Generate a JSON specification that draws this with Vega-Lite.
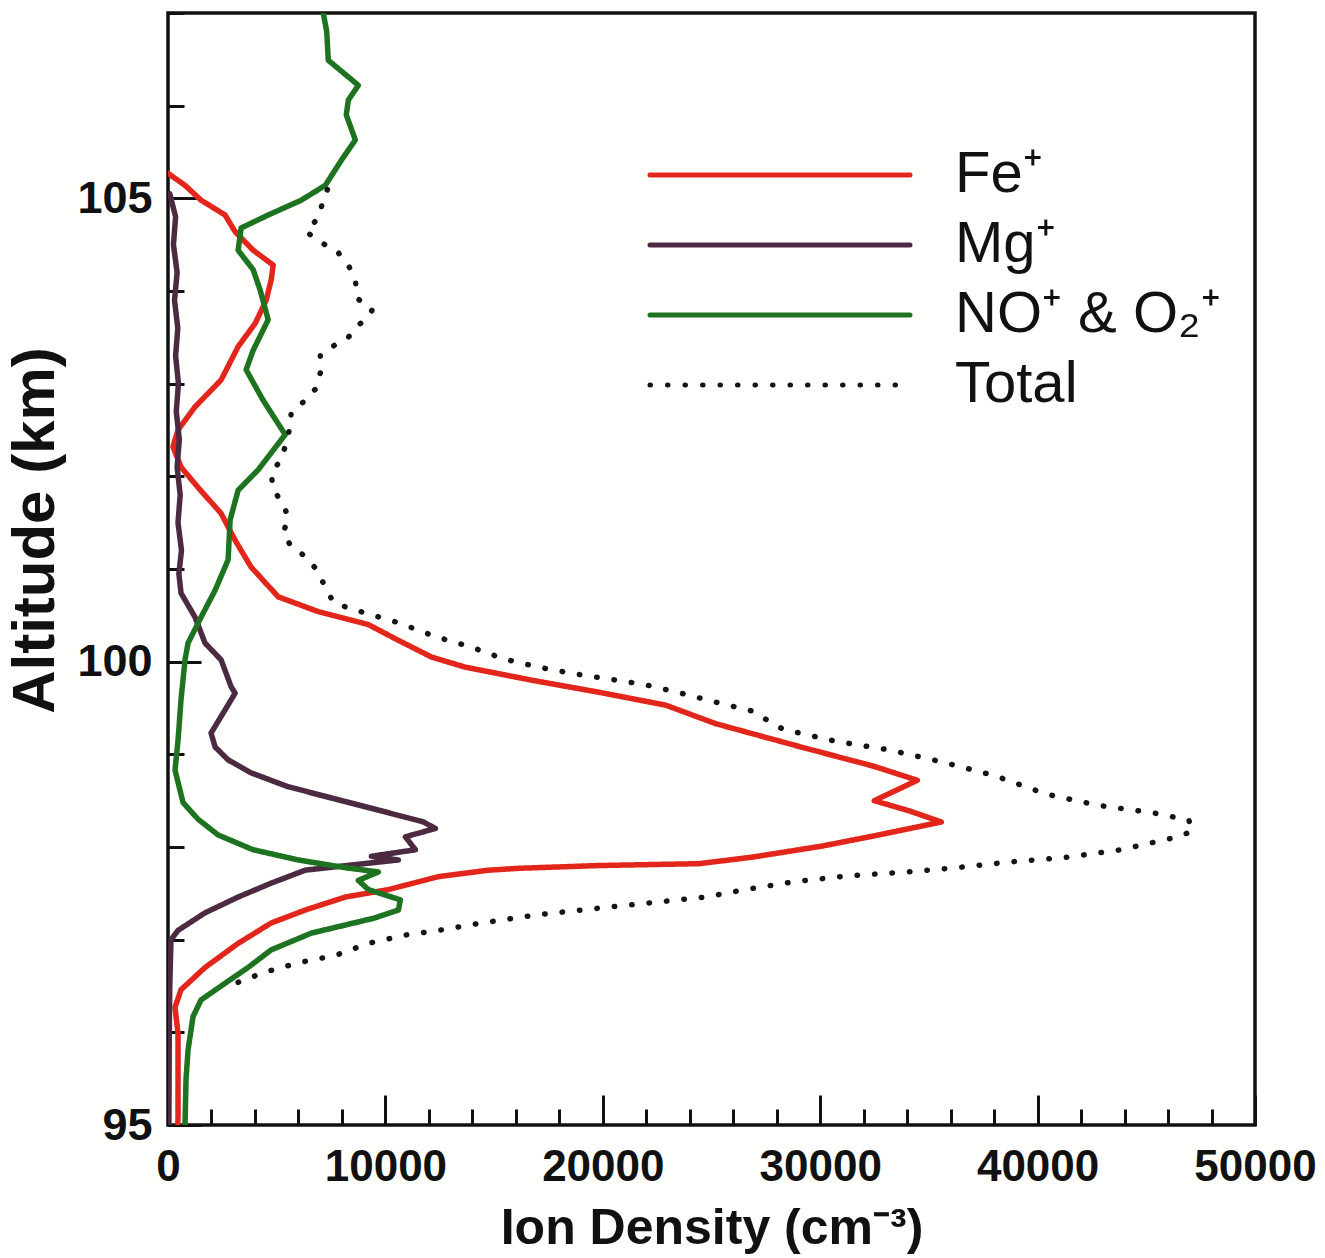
{
  "$schema": "https://vega.github.io/schema/vega-lite/v6.json",
  "width": 1087,
  "height": 1112,
  "autosize": {"type": "none"},
  "padding": {"left": 168, "top": 13, "right": 70, "bottom": 133},
  "background": "#fffffd",
  "config": {
    "view": {"stroke": "#111111", "strokeWidth": 3.5},
    "font": "Liberation Sans",
    "axis": {
      "domain": false,
      "grid": false,
      "tickColor": "#111111",
      "tickWidth": 3,
      "labelFont": "Liberation Sans",
      "labelFontWeight": "bold",
      "labelColor": "#111111",
      "labelFlush": false,
      "labelOverlap": false,
      "titleFont": "Liberation Sans",
      "titleFontWeight": "bold",
      "titleColor": "#111111"
    }
  },
  "data": {
    "values": [
      {"s": "Fe⁺", "alt": 105.27, "n": 0},
      {"s": "Fe⁺", "alt": 105.14, "n": 783},
      {"s": "Fe⁺", "alt": 104.98, "n": 1521},
      {"s": "Fe⁺", "alt": 104.82, "n": 2627},
      {"s": "Fe⁺", "alt": 104.64, "n": 3087},
      {"s": "Fe⁺", "alt": 104.44, "n": 3917},
      {"s": "Fe⁺", "alt": 104.28, "n": 4838},
      {"s": "Fe⁺", "alt": 104.12, "n": 4746},
      {"s": "Fe⁺", "alt": 103.9, "n": 4516},
      {"s": "Fe⁺", "alt": 103.65, "n": 4009},
      {"s": "Fe⁺", "alt": 103.4, "n": 3226},
      {"s": "Fe⁺", "alt": 103.04, "n": 2442},
      {"s": "Fe⁺", "alt": 102.75, "n": 1244},
      {"s": "Fe⁺", "alt": 102.5, "n": 461},
      {"s": "Fe⁺", "alt": 102.32, "n": 230},
      {"s": "Fe⁺", "alt": 102.1, "n": 599},
      {"s": "Fe⁺", "alt": 101.88, "n": 1382},
      {"s": "Fe⁺", "alt": 101.6, "n": 2442},
      {"s": "Fe⁺", "alt": 101.31, "n": 3087},
      {"s": "Fe⁺", "alt": 101.02, "n": 3825},
      {"s": "Fe⁺", "alt": 100.7, "n": 5069},
      {"s": "Fe⁺", "alt": 100.54, "n": 6912},
      {"s": "Fe⁺", "alt": 100.4, "n": 9216},
      {"s": "Fe⁺", "alt": 100.23, "n": 10598},
      {"s": "Fe⁺", "alt": 100.05, "n": 12119},
      {"s": "Fe⁺", "alt": 99.94, "n": 13686},
      {"s": "Fe⁺", "alt": 99.8, "n": 16727},
      {"s": "Fe⁺", "alt": 99.67, "n": 19814},
      {"s": "Fe⁺", "alt": 99.53, "n": 22902},
      {"s": "Fe⁺", "alt": 99.33, "n": 25206},
      {"s": "Fe⁺", "alt": 99.07, "n": 29261},
      {"s": "Fe⁺", "alt": 98.87, "n": 32486},
      {"s": "Fe⁺", "alt": 98.72, "n": 34468},
      {"s": "Fe⁺", "alt": 98.5, "n": 32486},
      {"s": "Fe⁺", "alt": 98.39, "n": 34099},
      {"s": "Fe⁺", "alt": 98.27, "n": 35574},
      {"s": "Fe⁺", "alt": 98.12, "n": 32486},
      {"s": "Fe⁺", "alt": 98.01, "n": 30090},
      {"s": "Fe⁺", "alt": 97.89, "n": 26865},
      {"s": "Fe⁺", "alt": 97.82, "n": 24422},
      {"s": "Fe⁺", "alt": 97.8, "n": 19814},
      {"s": "Fe⁺", "alt": 97.77, "n": 16128},
      {"s": "Fe⁺", "alt": 97.75, "n": 14746},
      {"s": "Fe⁺", "alt": 97.68, "n": 12442},
      {"s": "Fe⁺", "alt": 97.54, "n": 10138},
      {"s": "Fe⁺", "alt": 97.46, "n": 8156},
      {"s": "Fe⁺", "alt": 97.32, "n": 6313},
      {"s": "Fe⁺", "alt": 97.18, "n": 4746},
      {"s": "Fe⁺", "alt": 96.96, "n": 3226},
      {"s": "Fe⁺", "alt": 96.7, "n": 1705},
      {"s": "Fe⁺", "alt": 96.46, "n": 599},
      {"s": "Fe⁺", "alt": 96.27, "n": 323},
      {"s": "Fe⁺", "alt": 95.99, "n": 461},
      {"s": "Fe⁺", "alt": 95.63, "n": 461},
      {"s": "Fe⁺", "alt": 95.09, "n": 461},
      {"s": "Fe⁺", "alt": 95.0, "n": 450},

      {"s": "Mg⁺", "alt": 105.05, "n": 80},
      {"s": "Mg⁺", "alt": 104.8, "n": 350},
      {"s": "Mg⁺", "alt": 104.5, "n": 250},
      {"s": "Mg⁺", "alt": 104.2, "n": 420},
      {"s": "Mg⁺", "alt": 103.9, "n": 300},
      {"s": "Mg⁺", "alt": 103.6, "n": 450},
      {"s": "Mg⁺", "alt": 103.3, "n": 350},
      {"s": "Mg⁺", "alt": 103.0, "n": 480},
      {"s": "Mg⁺", "alt": 102.7, "n": 380},
      {"s": "Mg⁺", "alt": 102.4, "n": 520},
      {"s": "Mg⁺", "alt": 102.1, "n": 420},
      {"s": "Mg⁺", "alt": 101.8, "n": 560},
      {"s": "Mg⁺", "alt": 101.5, "n": 460},
      {"s": "Mg⁺", "alt": 101.2, "n": 620},
      {"s": "Mg⁺", "alt": 100.95, "n": 500},
      {"s": "Mg⁺", "alt": 100.74, "n": 599},
      {"s": "Mg⁺", "alt": 100.48, "n": 1244},
      {"s": "Mg⁺", "alt": 100.2, "n": 1705},
      {"s": "Mg⁺", "alt": 100.02, "n": 2442},
      {"s": "Mg⁺", "alt": 99.73, "n": 2903},
      {"s": "Mg⁺", "alt": 99.66, "n": 3087},
      {"s": "Mg⁺", "alt": 99.48, "n": 2627},
      {"s": "Mg⁺", "alt": 99.23, "n": 1981},
      {"s": "Mg⁺", "alt": 99.08, "n": 2166},
      {"s": "Mg⁺", "alt": 98.94, "n": 2765},
      {"s": "Mg⁺", "alt": 98.8, "n": 3825},
      {"s": "Mg⁺", "alt": 98.65, "n": 5530},
      {"s": "Mg⁺", "alt": 98.51, "n": 7834},
      {"s": "Mg⁺", "alt": 98.37, "n": 10138},
      {"s": "Mg⁺", "alt": 98.27, "n": 11750},
      {"s": "Mg⁺", "alt": 98.2, "n": 12303},
      {"s": "Mg⁺", "alt": 98.11, "n": 10921},
      {"s": "Mg⁺", "alt": 97.97, "n": 11382},
      {"s": "Mg⁺", "alt": 97.9, "n": 9354},
      {"s": "Mg⁺", "alt": 97.86, "n": 10598},
      {"s": "Mg⁺", "alt": 97.81, "n": 8617},
      {"s": "Mg⁺", "alt": 97.75, "n": 6313},
      {"s": "Mg⁺", "alt": 97.61, "n": 4746},
      {"s": "Mg⁺", "alt": 97.46, "n": 3226},
      {"s": "Mg⁺", "alt": 97.29, "n": 1705},
      {"s": "Mg⁺", "alt": 97.1, "n": 461},
      {"s": "Mg⁺", "alt": 97.0, "n": 138},
      {"s": "Mg⁺", "alt": 96.5, "n": 80},
      {"s": "Mg⁺", "alt": 96.0, "n": 60},
      {"s": "Mg⁺", "alt": 95.5, "n": 50},
      {"s": "Mg⁺", "alt": 95.0, "n": 40},

      {"s": "NO⁺ & O₂⁺", "alt": 107.0, "n": 7142},
      {"s": "NO⁺ & O₂⁺", "alt": 106.8, "n": 7300},
      {"s": "NO⁺ & O₂⁺", "alt": 106.49, "n": 7373},
      {"s": "NO⁺ & O₂⁺", "alt": 106.22, "n": 8755},
      {"s": "NO⁺ & O₂⁺", "alt": 106.06, "n": 8294},
      {"s": "NO⁺ & O₂⁺", "alt": 105.9, "n": 8202},
      {"s": "NO⁺ & O₂⁺", "alt": 105.63, "n": 8617},
      {"s": "NO⁺ & O₂⁺", "alt": 105.41, "n": 7972},
      {"s": "NO⁺ & O₂⁺", "alt": 105.14, "n": 7235},
      {"s": "NO⁺ & O₂⁺", "alt": 104.98, "n": 6129},
      {"s": "NO⁺ & O₂⁺", "alt": 104.82, "n": 4608},
      {"s": "NO⁺ & O₂⁺", "alt": 104.68, "n": 3364},
      {"s": "NO⁺ & O₂⁺", "alt": 104.44, "n": 3226},
      {"s": "NO⁺ & O₂⁺", "alt": 104.23, "n": 3917},
      {"s": "NO⁺ & O₂⁺", "alt": 104.01, "n": 4239},
      {"s": "NO⁺ & O₂⁺", "alt": 103.69, "n": 4608},
      {"s": "NO⁺ & O₂⁺", "alt": 103.36, "n": 3917},
      {"s": "NO⁺ & O₂⁺", "alt": 103.15, "n": 3594},
      {"s": "NO⁺ & O₂⁺", "alt": 102.82, "n": 4378},
      {"s": "NO⁺ & O₂⁺", "alt": 102.45, "n": 5391},
      {"s": "NO⁺ & O₂⁺", "alt": 102.07, "n": 4147},
      {"s": "NO⁺ & O₂⁺", "alt": 101.85, "n": 3226},
      {"s": "NO⁺ & O₂⁺", "alt": 101.53, "n": 2857},
      {"s": "NO⁺ & O₂⁺", "alt": 101.1, "n": 2765},
      {"s": "NO⁺ & O₂⁺", "alt": 100.77, "n": 2166},
      {"s": "NO⁺ & O₂⁺", "alt": 100.48, "n": 1521},
      {"s": "NO⁺ & O₂⁺", "alt": 100.2, "n": 922},
      {"s": "NO⁺ & O₂⁺", "alt": 100.02, "n": 783},
      {"s": "NO⁺ & O₂⁺", "alt": 99.59, "n": 599},
      {"s": "NO⁺ & O₂⁺", "alt": 99.15, "n": 461},
      {"s": "NO⁺ & O₂⁺", "alt": 98.83, "n": 323},
      {"s": "NO⁺ & O₂⁺", "alt": 98.48, "n": 691},
      {"s": "NO⁺ & O₂⁺", "alt": 98.3, "n": 1382},
      {"s": "NO⁺ & O₂⁺", "alt": 98.13, "n": 2304},
      {"s": "NO⁺ & O₂⁺", "alt": 97.97, "n": 3917},
      {"s": "NO⁺ & O₂⁺", "alt": 97.86, "n": 5990},
      {"s": "NO⁺ & O₂⁺", "alt": 97.78, "n": 8064},
      {"s": "NO⁺ & O₂⁺", "alt": 97.73, "n": 9677},
      {"s": "NO⁺ & O₂⁺", "alt": 97.64, "n": 8755},
      {"s": "NO⁺ & O₂⁺", "alt": 97.54, "n": 9216},
      {"s": "NO⁺ & O₂⁺", "alt": 97.43, "n": 10690},
      {"s": "NO⁺ & O₂⁺", "alt": 97.32, "n": 10598},
      {"s": "NO⁺ & O₂⁺", "alt": 97.23, "n": 9446},
      {"s": "NO⁺ & O₂⁺", "alt": 97.07, "n": 6589},
      {"s": "NO⁺ & O₂⁺", "alt": 96.89, "n": 4746},
      {"s": "NO⁺ & O₂⁺", "alt": 96.7, "n": 3686},
      {"s": "NO⁺ & O₂⁺", "alt": 96.53, "n": 2627},
      {"s": "NO⁺ & O₂⁺", "alt": 96.35, "n": 1521},
      {"s": "NO⁺ & O₂⁺", "alt": 96.17, "n": 1152},
      {"s": "NO⁺ & O₂⁺", "alt": 95.81, "n": 922},
      {"s": "NO⁺ & O₂⁺", "alt": 95.49, "n": 829},
      {"s": "NO⁺ & O₂⁺", "alt": 95.0, "n": 783},

      {"s": "Total", "alt": 105.12, "n": 7373},
      {"s": "Total", "alt": 104.98, "n": 7142},
      {"s": "Total", "alt": 104.79, "n": 6912},
      {"s": "Total", "alt": 104.64, "n": 6359},
      {"s": "Total", "alt": 104.52, "n": 7050},
      {"s": "Total", "alt": 104.44, "n": 7741},
      {"s": "Total", "alt": 104.28, "n": 8294},
      {"s": "Total", "alt": 104.12, "n": 8617},
      {"s": "Total", "alt": 103.92, "n": 8700},
      {"s": "Total", "alt": 103.8, "n": 9400},
      {"s": "Total", "alt": 103.72, "n": 9216},
      {"s": "Total", "alt": 103.63, "n": 8755},
      {"s": "Total", "alt": 103.5, "n": 8294},
      {"s": "Total", "alt": 103.42, "n": 7695},
      {"s": "Total", "alt": 103.31, "n": 7004},
      {"s": "Total", "alt": 103.15, "n": 7050},
      {"s": "Total", "alt": 102.94, "n": 6774},
      {"s": "Total", "alt": 102.82, "n": 6313},
      {"s": "Total", "alt": 102.69, "n": 5668},
      {"s": "Total", "alt": 102.54, "n": 5622},
      {"s": "Total", "alt": 102.36, "n": 5437},
      {"s": "Total", "alt": 102.18, "n": 5207},
      {"s": "Total", "alt": 102.04, "n": 4746},
      {"s": "Total", "alt": 101.85, "n": 4838},
      {"s": "Total", "alt": 101.71, "n": 5299},
      {"s": "Total", "alt": 101.55, "n": 5530},
      {"s": "Total", "alt": 101.39, "n": 5299},
      {"s": "Total", "alt": 101.24, "n": 5668},
      {"s": "Total", "alt": 101.13, "n": 6359},
      {"s": "Total", "alt": 101.01, "n": 6774},
      {"s": "Total", "alt": 100.81, "n": 7235},
      {"s": "Total", "alt": 100.64, "n": 7603},
      {"s": "Total", "alt": 100.58, "n": 8294},
      {"s": "Total", "alt": 100.42, "n": 10598},
      {"s": "Total", "alt": 100.27, "n": 12303},
      {"s": "Total", "alt": 100.16, "n": 13916},
      {"s": "Total", "alt": 100.03, "n": 15437},
      {"s": "Total", "alt": 99.94, "n": 17050},
      {"s": "Total", "alt": 99.87, "n": 18662},
      {"s": "Total", "alt": 99.81, "n": 20367},
      {"s": "Total", "alt": 99.75, "n": 21980},
      {"s": "Total", "alt": 99.66, "n": 23592},
      {"s": "Total", "alt": 99.56, "n": 25252},
      {"s": "Total", "alt": 99.47, "n": 26819},
      {"s": "Total", "alt": 99.27, "n": 28293},
      {"s": "Total", "alt": 99.14, "n": 30735},
      {"s": "Total", "alt": 99.05, "n": 33131},
      {"s": "Total", "alt": 98.92, "n": 35574},
      {"s": "Total", "alt": 98.77, "n": 38016},
      {"s": "Total", "alt": 98.57, "n": 40412},
      {"s": "Total", "alt": 98.45, "n": 42762},
      {"s": "Total", "alt": 98.37, "n": 45296},
      {"s": "Total", "alt": 98.29, "n": 46955},
      {"s": "Total", "alt": 98.17, "n": 47140},
      {"s": "Total", "alt": 98.1, "n": 46264},
      {"s": "Total", "alt": 97.97, "n": 43822},
      {"s": "Total", "alt": 97.89, "n": 41380},
      {"s": "Total", "alt": 97.84, "n": 38799},
      {"s": "Total", "alt": 97.78, "n": 36403},
      {"s": "Total", "alt": 97.73, "n": 33961},
      {"s": "Total", "alt": 97.69, "n": 31380},
      {"s": "Total", "alt": 97.63, "n": 28938},
      {"s": "Total", "alt": 97.54, "n": 26542},
      {"s": "Total", "alt": 97.46, "n": 24745},
      {"s": "Total", "alt": 97.34, "n": 19814},
      {"s": "Total", "alt": 97.27, "n": 17050},
      {"s": "Total", "alt": 97.18, "n": 14424},
      {"s": "Total", "alt": 97.1, "n": 12442},
      {"s": "Total", "alt": 97.05, "n": 10921},
      {"s": "Total", "alt": 96.96, "n": 9216},
      {"s": "Total", "alt": 96.83, "n": 7695},
      {"s": "Total", "alt": 96.75, "n": 5990},
      {"s": "Total", "alt": 96.65, "n": 4470},
      {"s": "Total", "alt": 96.54, "n": 3226}
    ]
  },
  "mark": {"type": "line", "strokeWidth": 5.5, "strokeCap": "round", "strokeJoin": "round", "clip": true},
  "encoding": {
    "x": {
      "field": "n",
      "type": "quantitative",
      "scale": {"domain": [0, 50000], "nice": false, "zero": false},
      "axis": {
        "values": [0, 2000, 4000, 6000, 8000, 10000, 12000, 14000, 16000, 18000, 20000, 22000, 24000, 26000, 28000, 30000, 32000, 34000, 36000, 38000, 40000, 42000, 44000, 46000, 48000, 50000],
        "labelExpr": "datum.value % 10000 === 0 ? '' + datum.value : ''",
        "tickSize": {"condition": {"test": "datum.value % 10000 === 0", "value": -30}, "value": -16},
        "labelPadding": 50,
        "labelFontSize": 44,
        "title": "Ion Density (cm⁻³)",
        "titleFontSize": 50,
        "titlePadding": 0
      }
    },
    "y": {
      "field": "alt",
      "type": "quantitative",
      "scale": {"domain": [95, 107], "nice": false, "zero": false},
      "axis": {
        "values": [95, 96, 97, 98, 99, 100, 101, 102, 103, 104, 105, 106, 107],
        "labelExpr": "(datum.value % 5 === 0 && datum.value < 107) ? '' + datum.value : ''",
        "tickSize": {"condition": {"test": "datum.value % 5 === 0", "value": -33}, "value": -16},
        "labelPadding": 49,
        "labelFontSize": 45,
        "title": "Altitude (km)",
        "titleFontSize": 60,
        "titlePadding": 10,
        "titleY": 517
      }
    },
    "order": {"field": "alt", "type": "quantitative"},
    "color": {
      "field": "s",
      "type": "nominal",
      "scale": {"domain": ["Fe⁺", "Mg⁺", "NO⁺ & O₂⁺", "Total"], "range": ["#e3261c", "#4b2a42", "#1d7320", "#151515"]},
      "legend": {
        "title": null,
        "orient": "none",
        "legendX": 453,
        "legendY": 133,
        "padding": 0,
        "rowPadding": 12,
        "labelFontSize": 58,
        "labelFont": "Liberation Sans",
        "labelColor": "#111111",
        "labelLimit": 0,
        "labelOffset": 276,
        "encode": {"symbols": {"update": {"shape": {"value": "M0,0H260"}, "size": {"value": 4}, "strokeWidth": {"value": 5}, "strokeCap": {"value": "round"}}}}
      }
    },
    "strokeDash": {
      "field": "s",
      "type": "nominal",
      "scale": {"domain": ["Fe⁺", "Mg⁺", "NO⁺ & O₂⁺", "Total"], "range": [[1, 0], [1, 0], [1, 0], [0.5, 17]]},
      "legend": {
        "title": null,
        "orient": "none",
        "legendX": 453,
        "legendY": 133,
        "padding": 0,
        "rowPadding": 12,
        "labelFontSize": 58,
        "labelFont": "Liberation Sans",
        "labelColor": "#111111",
        "labelLimit": 0,
        "labelOffset": 276,
        "encode": {"symbols": {"update": {"shape": {"value": "M0,0H260"}, "size": {"value": 4}, "strokeWidth": {"value": 5}, "strokeCap": {"value": "round"}}}}
      }
    }
  }
}
